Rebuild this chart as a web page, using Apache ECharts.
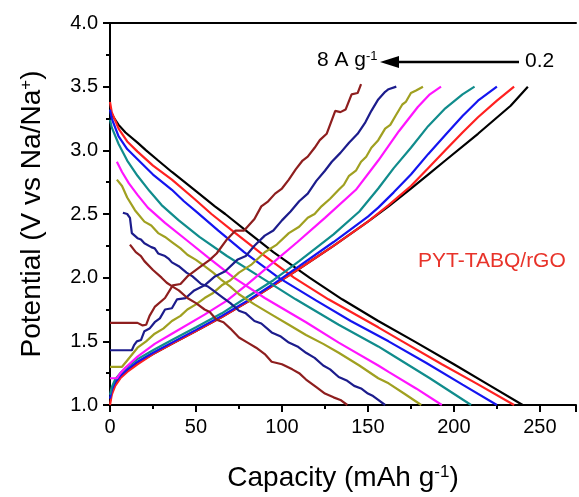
<!DOCTYPE html>
<html>
<head>
<meta charset="utf-8">
<script src="https://cdn.jsdelivr.net/npm/echarts@6/dist/echarts.min.js"></script>
<style>
  html, body { margin: 0; padding: 0; background: #fff; }
  #chart { width: 579px; height: 497px; }
</style>
</head>
<body>
<div id="chart"></div>
<script>
// Galvanostatic charge/discharge profiles, [capacity (mAh/g), potential (V)]
const blackDis = [[0,3.32],[2,3.26],[5,3.2],[9,3.14],[16,3.06],[21,3.0],[28,2.92],[36,2.83],[50,2.68],[61,2.56],[67,2.5],[80,2.36],[95,2.2],[116,2.0],[135,1.83],[156,1.66],[177,1.5],[200,1.32],[220,1.16],[240,1.0]];
const blackChg = [[0,1.03],[1,1.1],[3,1.16],[6,1.22],[10,1.27],[16,1.33],[25,1.4],[36,1.48],[50,1.58],[65,1.69],[80,1.81],[95,1.94],[110,2.07],[130,2.25],[150,2.44],[162,2.56],[175,2.7],[185,2.81],[195,2.92],[214,3.13],[233,3.35],[243,3.5]];

const redDis = [[0,3.38],[1,3.3],[5,3.17],[10,3.07],[16,2.99],[25,2.88],[36,2.77],[49,2.62],[59,2.5],[72,2.36],[87,2.2],[107,2.0],[127,1.83],[156,1.61],[170,1.5],[193,1.32],[213,1.17],[235,1.0]];
const redChg = [[0,1.0],[1,1.08],[3,1.15],[6,1.21],[10,1.26],[16,1.32],[25,1.4],[36,1.48],[50,1.58],[65,1.69],[80,1.81],[95,1.94],[110,2.07],[130,2.25],[150,2.44],[162,2.57],[175,2.72],[185,2.86],[195,3.0],[205,3.14],[214,3.26],[225,3.39],[235,3.5]];

const blueDis = [[0,3.32],[1,3.25],[5,3.11],[10,3.01],[16,2.93],[25,2.81],[36,2.69],[43,2.6],[50,2.52],[63,2.37],[78,2.2],[98,2.0],[120,1.82],[140,1.66],[162,1.5],[184,1.33],[205,1.16],[225,1.0]];
const blueChg = [[0,1.05],[1,1.12],[3,1.18],[6,1.23],[10,1.28],[16,1.34],[25,1.41],[36,1.49],[50,1.59],[65,1.7],[80,1.82],[95,1.95],[110,2.09],[130,2.28],[150,2.48],[156,2.55],[165,2.67],[175,2.81],[185,2.97],[195,3.12],[205,3.27],[214,3.39],[225,3.5]];

const tealDis = [[0,3.24],[1,3.18],[5,3.05],[10,2.92],[16,2.8],[23,2.68],[30,2.57],[40,2.45],[52,2.32],[68,2.17],[88,2.0],[108,1.83],[133,1.63],[156,1.46],[162,1.41],[186,1.21],[210,1.0]];
const tealChg = [[0,1.08],[1,1.14],[3,1.2],[6,1.25],[10,1.3],[16,1.36],[25,1.43],[36,1.51],[50,1.61],[65,1.72],[80,1.85],[95,1.98],[110,2.13],[130,2.34],[145,2.52],[156,2.7],[165,2.86],[175,3.02],[185,3.19],[195,3.33],[205,3.44],[212,3.5]];

const magentaDis = [[4,2.91],[7,2.83],[11,2.74],[16,2.65],[22,2.55],[32,2.43],[45,2.29],[57,2.16],[72,2.0],[90,1.84],[114,1.65],[133,1.49],[156,1.31],[162,1.26],[178,1.13],[193,1.0]];
const magentaChg = [[0,1.21],[4,1.21],[6,1.25],[8.7,1.29],[16,1.38],[26,1.48],[36,1.56],[55,1.71],[68,1.82],[80,1.95],[95,2.12],[109,2.28],[125,2.47],[143,2.69],[156,2.92],[168,3.15],[179,3.34],[186,3.44],[192.5,3.5]];

const oliveDis = [[4,2.77],[7,2.72],[10,2.63],[14.5,2.53],[20,2.44],[24,2.41],[28,2.35],[32,2.32],[36,2.28],[41,2.23],[45,2.18],[50,2.14],[55,2.09],[60,2.04],[65,1.98],[70,1.93],[75,1.87],[84,1.79],[94,1.71],[104,1.63],[114,1.55],[124,1.48],[133,1.41],[145,1.31],[156,1.21],[162,1.17],[171,1.09],[181,1.0]];
const oliveChg = [[0,1.3],[7,1.3],[10,1.35],[16,1.45],[21,1.5],[26,1.56],[31,1.6],[36,1.66],[41,1.7],[45,1.75],[50,1.79],[55,1.84],[60,1.88],[65,1.94],[70,1.98],[75,2.04],[82,2.1],[90,2.2],[97,2.26],[104,2.35],[110,2.4],[115,2.47],[119,2.5],[123,2.56],[128,2.62],[133,2.69],[136,2.73],[139,2.8],[143,2.84],[146,2.91],[149,2.95],[152,3.02],[156,3.08],[160,3.17],[163,3.2],[166,3.27],[170,3.36],[172,3.38],[175,3.45],[178,3.47],[182,3.5]];

const navyDis = [[7.5,2.51],[10,2.5],[11.6,2.47],[12.7,2.35],[16,2.31],[18,2.3],[20,2.27],[24,2.24],[26,2.23],[28,2.19],[32,2.17],[34,2.15],[36,2.12],[40,2.09],[44.5,2.04],[48,2.01],[53,1.95],[57,1.93],[60,1.9],[66,1.84],[70,1.8],[75,1.74],[79,1.72],[84,1.66],[88,1.64],[94,1.57],[99,1.54],[104,1.49],[109,1.46],[114,1.41],[119,1.37],[124,1.31],[128,1.28],[133,1.22],[138,1.19],[142,1.15],[146,1.13],[150,1.09],[153,1.07],[156,1.04],[160,1.0]];
const navyChg = [[0,1.43],[12.7,1.43],[14,1.47],[15.6,1.5],[18,1.51],[20,1.58],[23,1.6],[26,1.65],[29,1.68],[32,1.75],[36,1.76],[39,1.83],[44,1.84],[49,1.9],[55,1.94],[61,2.01],[67,2.05],[74,2.14],[79,2.17],[84,2.25],[90,2.33],[95,2.37],[100,2.45],[105,2.52],[110,2.6],[115,2.66],[120,2.76],[125,2.84],[129,2.91],[134,2.98],[139,3.06],[144,3.13],[148.5,3.22],[152,3.31],[156,3.4],[160,3.46],[162,3.48],[166.5,3.5]];

const maroonDis = [[11.6,2.26],[15,2.2],[18,2.17],[20,2.13],[25,2.06],[30,2.0],[33,1.96],[36.4,1.93],[40,1.9],[45,1.84],[50,1.8],[55,1.75],[58,1.73],[62,1.67],[66,1.65],[70,1.6],[75,1.53],[80,1.49],[85,1.45],[90,1.4],[94,1.34],[100,1.32],[106,1.28],[110,1.25],[114,1.2],[120,1.14],[125,1.09],[130,1.06],[134,1.04],[138,1.0]];
const maroonChg = [[0,1.645],[16,1.645],[19,1.625],[21,1.63],[23,1.7],[26,1.77],[32,1.84],[36.5,1.94],[41,1.95],[45,2.01],[52,2.08],[58,2.14],[62,2.19],[68,2.3],[73,2.37],[78,2.37],[84,2.46],[88,2.56],[92,2.6],[96,2.66],[100,2.7],[104,2.77],[108,2.85],[112,2.92],[115,2.95],[119,3.02],[122,3.08],[126,3.13],[131,3.31],[134,3.3],[137,3.32],[140.5,3.44],[144,3.45],[146,3.52]];

// axis ranges and tick spacing
const xRange = [0, 271];
const xStep = 50;
const yRange = [1.0, 4.0];
const yStep = 0.5;

const curves = [
  { name: 'black', color: '#000000', dis: blackDis, chg: blackChg },
  { name: 'red', color: '#ff2020', dis: redDis, chg: redChg },
  { name: 'blue', color: '#1414f0', dis: blueDis, chg: blueChg },
  { name: 'teal', color: '#108c8c', dis: tealDis, chg: tealChg },
  { name: 'magenta', color: '#ff14ff', dis: magentaDis, chg: magentaChg },
  { name: 'olive', color: '#a0a020', dis: oliveDis, chg: oliveChg },
  { name: 'navy', color: '#1c1c8c', dis: navyDis, chg: navyChg },
  { name: 'maroon', color: '#8e1e1e', dis: maroonDis, chg: maroonChg }
];

const FONT = "'Liberation Sans', Arial, sans-serif";

const series = [];
curves.forEach(function (c) {
  ['dis', 'chg'].forEach(function (k) {
    series.push({
      name: c.name + '-' + k,
      type: 'line',
      data: c[k],
      showSymbol: false,
      symbol: 'none',
      lineStyle: { color: c.color, width: 2.2 },
      itemStyle: { color: c.color },
      animation: false
    });
  });
});

const chart = echarts.init(document.getElementById('chart'), null, { renderer: 'canvas' });

const axisCommon = {
  axisLine: { show: true, lineStyle: { color: '#000', width: 2 } },
  axisTick: { show: true, inside: false, length: 7, lineStyle: { color: '#000', width: 2 } },
  minorTick: { show: true, splitNumber: 2, length: 4, lineStyle: { color: '#000', width: 2 } },
  splitLine: { show: false },
  minorSplitLine: { show: false }
};

chart.setOption({
  backgroundColor: '#fff',
  animation: false,
  grid: { left: 110, right: 0, top: 23, bottom: 92, containLabel: false },
  xAxis: [
    Object.assign({
      type: 'value', position: 'bottom',
      min: xRange[0], max: xRange[1], interval: xStep,
      axisLabel: {
        fontFamily: FONT, fontSize: 20, color: '#000', margin: 12,
        formatter: function (v) { return v % xStep === 0 ? String(v) : ''; }
      },
      name: '{t|Capacity (mAh g}{s|-1}{t|)}',
      nameLocation: 'middle',
      nameGap: 59,
      nameTextStyle: {
        rich: {
          t: { fontFamily: FONT, fontSize: 28, color: '#000' },
          s: { fontFamily: FONT, fontSize: 17, color: '#000', verticalAlign: 'top' }
        }
      }
    }, axisCommon),
    {
      type: 'value', position: 'top',
      min: xRange[0], max: xRange[1], interval: xStep,
      axisLine: { show: true, lineStyle: { color: '#000', width: 2 } },
      axisTick: { show: false }, axisLabel: { show: false },
      splitLine: { show: false }
    }
  ],
  yAxis: Object.assign({
    type: 'value',
    min: yRange[0], max: yRange[1], interval: yStep,
    axisLabel: {
      fontFamily: FONT, fontSize: 20, color: '#000', margin: 12,
      formatter: function (v) { return v.toFixed(1); }
    },
    name: '{t|Potential (V vs Na/Na}{s|+}{t|)}',
    nameLocation: 'middle',
    nameGap: 64,
    nameTextStyle: {
      rich: {
        t: { fontFamily: FONT, fontSize: 28, color: '#000' },
        s: { fontFamily: FONT, fontSize: 17, color: '#000', verticalAlign: 'top' }
      }
    }
  }, axisCommon),
  series: series,
  graphic: [
    {
      type: 'text', left: 317, top: 50,
      style: {
        text: '{a|8 A g}{b|-1}',
        rich: {
          a: { fontFamily: FONT, fontSize: 21, fill: '#000' },
          b: { fontFamily: FONT, fontSize: 13, fill: '#000', verticalAlign: 'top' }
        }
      }
    },
    {
      type: 'line',
      shape: { x1: 396, y1: 62, x2: 519, y2: 62 },
      style: { stroke: '#000', lineWidth: 2.5 }
    },
    {
      type: 'polygon',
      shape: { points: [[380, 62], [399, 56], [399, 68]] },
      style: { fill: '#000' }
    },
    {
      type: 'text', left: 525, top: 51,
      style: { text: '0.2', fontFamily: FONT, fontSize: 21, fill: '#000' }
    },
    {
      type: 'text', left: 418, top: 251,
      style: { text: 'PYT-TABQ/rGO', fontFamily: FONT, fontSize: 21, fill: '#e8332a' }
    }
  ]
});
</script>
</body>
</html>
